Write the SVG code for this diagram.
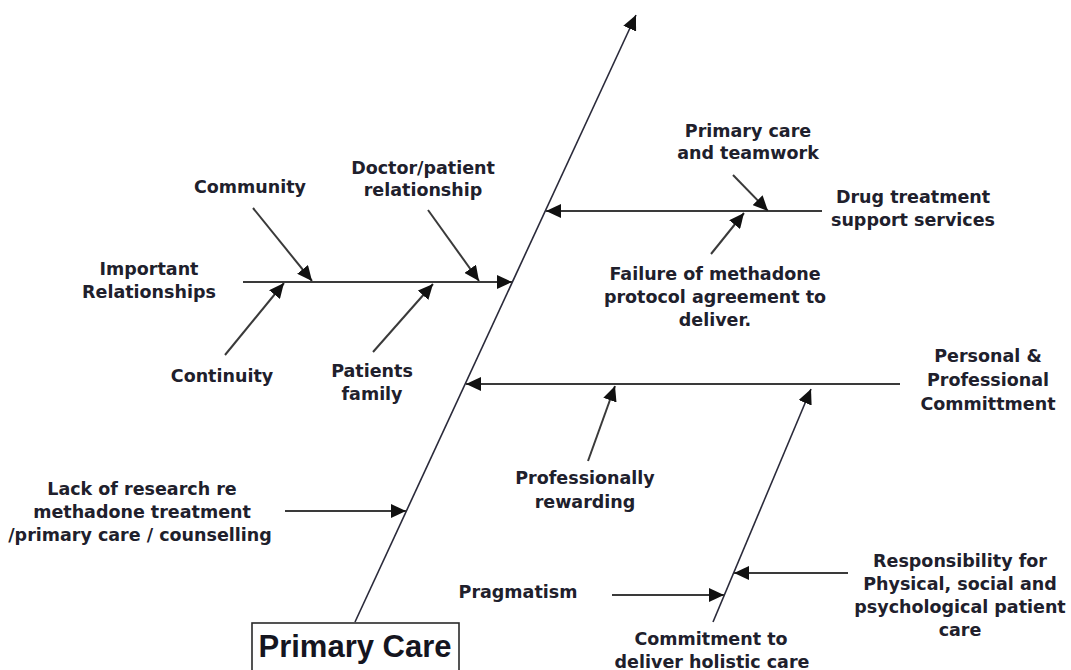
<svg xmlns="http://www.w3.org/2000/svg" width="1071" height="670" viewBox="0 0 1071 670">
<style>
.lbl{font-family:"DejaVu Sans","Liberation Sans",sans-serif;font-weight:bold;font-size:17.5px;fill:#20202c;text-anchor:middle}
.ttl{font-family:"Liberation Sans",Arial,sans-serif;font-weight:bold;font-size:31px;fill:#15151f;text-anchor:middle}
.bone{stroke:#3a3a3a;stroke-width:2;fill:none;marker-end:url(#ah)}
.spine{stroke:#2a2a3a;stroke-width:1.6;fill:none;marker-end:url(#ah)}
</style>
<defs>
<marker id="ah" markerUnits="userSpaceOnUse" markerWidth="16" markerHeight="14" refX="15" refY="7" orient="auto">
<path d="M0,0 L15,7 L0,14 z" fill="#111"/>
</marker>
</defs>
<rect width="1071" height="670" fill="#fff"/>
<g id="connectors">
<line class="spine" x1="355" y1="622" x2="636" y2="15"/>
<line class="bone" x1="243" y1="282" x2="512" y2="282"/>
<line class="bone" x1="253" y1="208" x2="312" y2="281"/>
<line class="bone" x1="428" y1="210" x2="479" y2="281"/>
<line class="bone" x1="225" y1="355" x2="284" y2="283"/>
<line class="bone" x1="373" y1="352" x2="433" y2="284"/>
<line class="bone" x1="822" y1="211" x2="546" y2="211"/>
<line class="bone" x1="733" y1="175" x2="768" y2="211"/>
<line class="bone" x1="711" y1="254" x2="744" y2="213"/>
<line class="bone" x1="900" y1="384" x2="466" y2="384"/>
<line class="bone" x1="588" y1="461" x2="615" y2="386"/>
<line class="bone" x1="285" y1="511" x2="406" y2="511"/>
<line class="spine" x1="713" y1="622" x2="811" y2="389"/>
<line class="bone" x1="848" y1="573" x2="734" y2="573"/>
<line class="bone" x1="612" y1="595" x2="724" y2="595"/>
</g>
<g id="primary-care">
<rect x="252" y="623" width="207" height="52" fill="#fff" stroke="#2a2a2a" stroke-width="1.6"/>
<text class="ttl" x="355" y="657">Primary Care</text>
</g>
<g id="community"><text class="lbl" x="250" y="193">Community</text></g>
<g id="important-relationships"><text class="lbl" x="149" y="275">Important<tspan x="149" dy="23">Relationships</tspan></text></g>
<g id="doctor-patient"><text class="lbl" x="423" y="174">Doctor/patient<tspan x="423" dy="22">relationship</tspan></text></g>
<g id="continuity"><text class="lbl" x="222" y="382">Continuity</text></g>
<g id="patients-family"><text class="lbl" x="372" y="377">Patients<tspan x="372" dy="23">family</tspan></text></g>
<g id="primary-care-teamwork"><text class="lbl" x="748" y="137">Primary care<tspan x="748" dy="22">and teamwork</tspan></text></g>
<g id="drug-treatment"><text class="lbl" x="913" y="203">Drug treatment<tspan x="913" dy="23">support services</tspan></text></g>
<g id="failure"><text class="lbl" x="715" y="280">Failure of methadone<tspan x="715" dy="23">protocol agreement to</tspan><tspan x="715" dy="23">deliver.</tspan></text></g>
<g id="personal"><text class="lbl" x="988" y="362">Personal &amp;<tspan x="988" dy="24">Professional</tspan><tspan x="988" dy="24">Committment</tspan></text></g>
<g id="lack-of-research"><text class="lbl" x="142" y="495">Lack of research re<tspan x="142" dy="23">methadone treatment</tspan><tspan x="140" dy="23">/primary care / counselling</tspan></text></g>
<g id="professionally-rewarding"><text class="lbl" x="585" y="484">Professionally<tspan x="585" dy="24">rewarding</tspan></text></g>
<g id="responsibility"><text class="lbl" x="960" y="567">Responsibility for<tspan x="960" dy="23">Physical, social and</tspan><tspan x="960" dy="23">psychological patient</tspan><tspan x="960" dy="23">care</tspan></text></g>
<g id="pragmatism"><text class="lbl" x="518" y="598">Pragmatism</text></g>
<g id="commitment-holistic"><text class="lbl" x="711" y="645">Commitment to<tspan x="712" dy="23">deliver holistic care</tspan></text></g>
</svg>
